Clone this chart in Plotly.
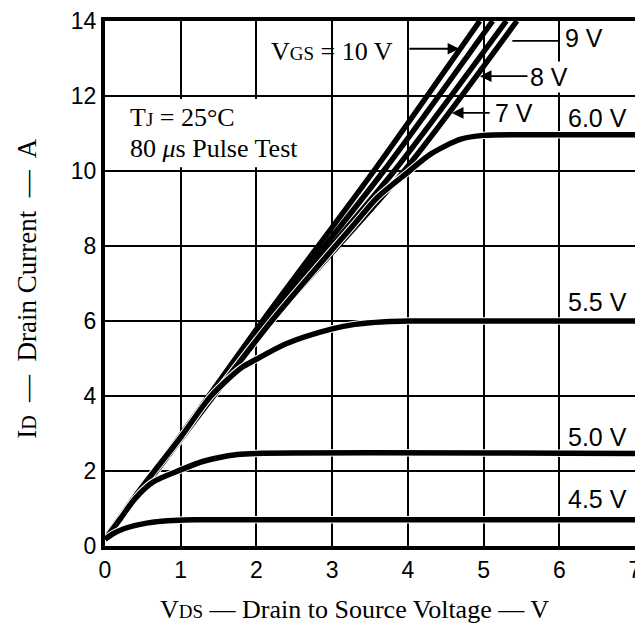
import plotly.graph_objects as go

# ---- data (VDS in V, ID in A) ----
vgs_labels = ["10 V", "9 V", "8 V", "7 V", "6.0 V", "5.5 V", "5.0 V", "4.5 V"]

vds_100 = [0, 1.0, 2.08, 3.55, 4.95]
id_100 = [0.2, 2.95, 6.0, 10.0, 14.0]

vds_90 = [0, 1.0, 2.12, 3.68, 5.12]
id_90 = [0.2, 2.93, 6.0, 10.0, 14.0]

vds_80 = [0, 1.0, 2.16, 3.82, 5.3]
id_80 = [0.2, 2.9, 6.0, 10.0, 14.0]

vds_70 = [0, 1.0, 2.2, 3.95, 5.44]
id_70 = [0.2, 2.85, 6.0, 10.0, 14.0]

vds_60 = [0, 1.0, 2.2, 3.3, 3.6, 4.02, 4.3, 4.7, 5.0, 5.5, 7]
id_60 = [0.2, 2.85, 6.0, 8.6, 9.3, 10.0, 10.45, 10.85, 10.95, 10.97, 10.97]

vds_55 = [0, 0.5, 1.0, 1.4, 1.8, 2.0, 2.4, 3.0, 3.3, 3.7, 4.0, 7]
id_55 = [0.2, 1.6, 2.9, 4.0, 4.75, 4.98, 5.4, 5.79, 5.91, 5.98, 6.0, 6.0]

vds_50 = [0, 0.2, 0.4, 0.63, 1.0, 1.3, 1.75, 2.0, 7]
id_50 = [0.18, 0.72, 1.27, 1.70, 2.03, 2.26, 2.44, 2.47, 2.47]

vds_45 = [0, 0.1, 0.25, 0.45, 0.65, 0.9, 1.2, 7]
id_45 = [0.18, 0.32, 0.46, 0.57, 0.64, 0.68, 0.70, 0.70]

x_ticks = [0, 1, 2, 3, 4, 5, 6, 7]
y_ticks = [0, 2, 4, 6, 8, 10, 12, 14]

curves = [
    (vds_100, id_100, False), (vds_90, id_90, False), (vds_80, id_80, False),
    (vds_70, id_70, False), (vds_60, id_60, True), (vds_55, id_55, True),
    (vds_50, id_50, True), (vds_45, id_45, True),
]

fig = go.Figure()
for (xs, ys, casing), name in zip(curves, vgs_labels):
    if casing:
        fig.add_trace(go.Scatter(x=xs, y=ys, mode="lines", name=name + " casing",
                                 line=dict(color="white", width=7.5, shape="spline", smoothing=0.8),
                                 hoverinfo="skip", showlegend=False))
    fig.add_trace(go.Scatter(x=xs, y=ys, mode="lines", name=name,
                             line=dict(color="black", width=5.5, shape="spline", smoothing=0.8),
                             showlegend=False))

serif = "Liberation Serif, Times New Roman, serif"
sans = "Liberation Sans, Arial, sans-serif"

ann = []
def txt(x, y, s, font, size, xanchor="center", bg=None):
    d = dict(x=x, y=y, xref="x", yref="y", text=s, showarrow=False,
             font=dict(family=font, size=size, color="black"), xanchor=xanchor, yanchor="middle")
    if bg:
        d["bgcolor"] = bg
    ann.append(d)

def arrow(x0, y0, x1, y1):
    ann.append(dict(x=x1, y=y1, ax=x0, ay=y0, xref="x", yref="y", axref="x", ayref="y",
                    text="", showarrow=True, arrowhead=2, arrowsize=1.3, arrowwidth=1.8,
                    arrowcolor="black"))

lab = 25
txt(3.0, 13.2, "V<span style='font-size:19px'>GS</span> = 10 V", serif, 26)
arrow(4.0, 13.26, 4.68, 13.26)
txt(6.33, 13.54, "9 V", sans, lab)
txt(5.87, 12.50, "8 V", sans, lab, bg="white")
arrow(5.6, 12.53, 4.95, 12.53)
txt(5.40, 11.56, "7 V", sans, lab)
arrow(5.1, 11.55, 4.58, 11.55)
txt(6.5, 11.42, "6.0 V", sans, lab)
txt(6.5, 6.50, "5.5 V", sans, lab)
txt(6.5, 2.92, "5.0 V", sans, lab)
txt(6.5, 1.25, "4.5 V", sans, lab)
txt(0.3, 11.42, "T<span style='font-size:19px'>J</span> = 25°C", serif, 26, xanchor="left")
txt(0.3, 10.60, "80 <i>μ</i>s Pulse Test", serif, 26, xanchor="left")

ann.append(dict(x=-0.147, y=0.49, xref="paper", yref="paper", textangle=-90, showarrow=False,
                xanchor="center", yanchor="middle",
                text="I<span style='font-size:20px'>D</span>  —  Drain Current  —  A",
                font=dict(family=serif, size=27, color="black")))
ann.append(dict(x=0.471, y=-0.12, xref="paper", yref="paper", showarrow=False,
                xanchor="center", yanchor="middle",
                text="V<span style='font-size:19px'>DS</span> — Drain to Source Voltage — V",
                font=dict(family=serif, size=26, color="black")))

shapes = [
    dict(type="rect", xref="x", yref="y", x0=0.06, x1=2.8, y0=10.1, y1=11.92,
         fillcolor="white", line=dict(width=0), layer="between"),
    dict(type="line", xref="x", yref="y", x0=5.38, x1=6.0, y0=13.47, y1=13.47,
         line=dict(color="black", width=1.8)),
]

# the page body adds an 8px offset, so the figure is sized to fit inside the window
fig.update_layout(
    width=635, height=616,
    margin=dict(l=97, r=8, t=13, b=78),
    paper_bgcolor="white", plot_bgcolor="white",
    showlegend=False,
    annotations=ann, shapes=shapes,
    xaxis=dict(range=[0, 7], tickvals=x_ticks, ticktext=[str(v) for v in x_ticks],
               showgrid=True, gridcolor="black", gridwidth=2, zeroline=False,
               showline=True, linecolor="black", linewidth=4, mirror=True, automargin=False,
               ticklabeloverflow="allow",
               ticks="", tickfont=dict(family=sans, size=23, color="black")),
    yaxis=dict(range=[0, 14], tickvals=y_ticks, ticktext=[str(v) for v in y_ticks],
               showgrid=True, gridcolor="black", gridwidth=2, zeroline=False,
               showline=True, linecolor="black", linewidth=4, mirror=True, automargin=False,
               ticklabeloverflow="allow",
               ticks="", tickfont=dict(family=sans, size=23, color="black")),
)

fig.write_html("out.html")
